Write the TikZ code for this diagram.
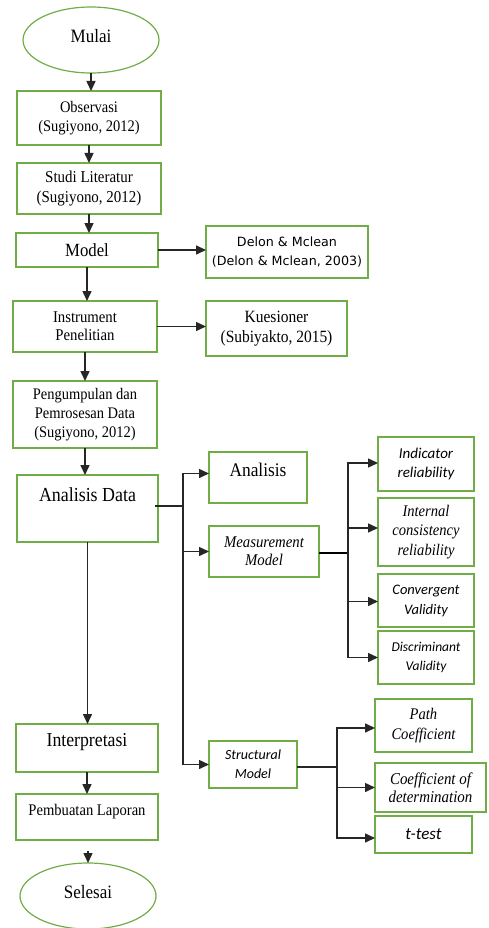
\documentclass[tikz,border=0pt]{standalone}
\usepackage{fontspec}
\setmainfont{Liberation Serif}[FakeStretch=0.9]
\newfontfamily\carl{Carlito}
\newfontfamily\dvs{DejaVu Sans}
\usetikzlibrary{arrows.meta,shapes.geometric}
\definecolor{gbord}{HTML}{70AD47}
\begin{document}
\begin{tikzpicture}[x=1pt,y=-1pt,
  box/.style={draw=gbord, line width=1.2pt, inner sep=0pt, outer sep=0pt, align=center,
    font=\fontsize{16.1}{19}\selectfont},
  oval/.style={draw=gbord, line width=1.2pt, ellipse, inner sep=0pt, outer sep=0pt},
  txt/.style={inner sep=0pt, align=center},
  arr/.style={draw=black!85, line width=1.5pt, -{Triangle[length=10pt,width=9pt]}},
  ln/.style={draw=black!85, line width=1.5pt}]
\useasboundingbox (0,0) rectangle (488,928);
% main column
\node[oval, minimum width=136, minimum height=66] (mulai) at (91,40) {};
\node[txt, font=\fontsize{18.9}{20}\selectfont] (tmulai) at (91,36) {Mulai};
\node[box, minimum width=144, minimum height=54] (obs) at (89,118) {Observasi\\(Sugiyono, 2012)};
\node[box, minimum width=144, minimum height=51, font=\fontsize{16.6}{20}\selectfont] (studi) at (89,188.5) {Studi Literatur\\(Sugiyono, 2012)};
\node[box, minimum width=142, minimum height=34, font=\fontsize{18.6}{20}\selectfont] (model) at (87,250) {Model};
\node[box, minimum width=162, minimum height=52, font=\dvs\fontsize{12.7}{19}\selectfont] (delon) at (287,252) {Delon \& Mclean\\(Delon \& Mclean, 2003)};
\node[box, minimum width=144, minimum height=51, font=\fontsize{16.4}{18}\selectfont] (instr) at (85,326.5) {Instrument\\Penelitian};
\node[box, minimum width=141, minimum height=55, font=\fontsize{17.2}{20}\selectfont] (kues) at (276.5,328.5) {Kuesioner\\(Subiyakto, 2015)};
\node[box, minimum width=144, minimum height=67] (peng) at (85,414.5) {Pengumpulan dan\\Pemrosesan Data\\(Sugiyono, 2012)};
\node[box, minimum width=141, minimum height=67] (adata) at (87.5,508.5) {};
\node[txt, font=\fontsize{19.9}{20}\selectfont] (tadata) at (87.5,495) {Analisis Data};
\node[box, minimum width=142, minimum height=48] (interp) at (87,748) {};
\node[txt, font=\fontsize{19.7}{20}\selectfont] (tinterp) at (87,742) {Interpretasi};
\node[box, minimum width=142, minimum height=46] (pemb) at (87,817) {};
\node[txt, font=\fontsize{16.2}{18}\selectfont] (tpemb) at (87,812) {Pembuatan Laporan};
\node[oval, minimum width=136, minimum height=66] (selesai) at (88,896) {};
\node[txt, font=\fontsize{18.9}{20}\selectfont] (tselesai) at (88,892) {Selesai};
% middle column
\node[box, minimum width=98, minimum height=51] (anl) at (258,477.5) {};
\node[txt, font=\fontsize{19.3}{20}\selectfont] (tanl) at (258,470) {Analisis};
\node[box, minimum width=110, minimum height=51, font=\itshape\fontsize{16.4}{18}\selectfont] (meas) at (264,551.5) {Measurement\\Model};
\node[box, minimum width=88, minimum height=47, font=\carl\itshape\fontsize{14}{19}\selectfont] (struct) at (253,764.5) {Structural\\Model};
% right column
\node[box, minimum width=96, minimum height=54, font=\carl\itshape\fontsize{15}{19}\selectfont] (ind) at (426,464) {Indicator\\reliability};
\node[box, minimum width=96, minimum height=68, font=\itshape\fontsize{16.2}{19.5}\selectfont] (internal) at (426,532) {Internal\\consistency\\reliability};
\node[box, minimum width=96, minimum height=53, font=\carl\itshape\fontsize{14.5}{20}\selectfont] (conv) at (426,600.5) {Convergent\\Validity};
\node[box, minimum width=96, minimum height=53, font=\carl\itshape\fontsize{13.5}{19}\selectfont] (disc) at (426,657.5) {Discriminant\\Validity};
\node[box, minimum width=97, minimum height=53, font=\itshape\fontsize{16.2}{20}\selectfont] (path) at (423.5,725.5) {Path\\Coefficient};
\node[box, minimum width=111, minimum height=49, font=\itshape\fontsize{16.6}{18}\selectfont] (coef) at (430.5,787.5) {Coefficient of\\determination};
\node[box, minimum width=97, minimum height=37, font=\carl\itshape\fontsize{17}{20}\selectfont] (ttest) at (423.5,834.5) {t-test};
% junctions
\coordinate (j1) at (183,506);
\coordinate (j2) at (348,553);
\coordinate (j3) at (337,767);
\coordinate (gap) at (88,851);
% connectors main column
\draw[arr] (mulai.south) -- (mulai.south |- obs.north);
\draw[arr] (obs.south) -- (studi.north);
\draw[arr] (studi.south) -- (studi.south |- model.north);
\draw[arr] (model.east) -- (model.east -| delon.west);
\draw[arr] (model.south) -- (model.south |- instr.north);
\draw[arr] (instr.east) -- (instr.east -| kues.west);
\draw[arr] (instr.south) -- (peng.north);
\draw[arr] (peng.south) -- (peng.south |- adata.north);
\draw[arr] (adata.south) -- (adata.south |- interp.north);
\draw[arr] (interp.south) -- (pemb.north);
\draw[arr] (gap) -- (selesai.north);
% analysis branches
\draw[ln] ([xshift=-3pt]adata.east |- j1) -- (j1);
\draw[arr] (j1) |- ([yshift=4pt]anl.west);
\draw[arr] (j1) |- (meas.west);
\draw[arr] (j1) |- (struct.west);
% measurement branches
\draw[draw=black, line width=2.6pt] (meas.east |- j2) -- (j2);
\draw[arr] (j2) |- ([yshift=1pt]ind.west);
\draw[arr] (j2) |- ([yshift=4pt]internal.west);
\draw[arr] (j2) |- ([yshift=-1pt]conv.west);
\draw[arr] (j2) |- (disc.west);
% structural branches
\draw[ln] (struct.east |- j3) -- (j3);
\draw[arr] (j3) |- ([yshift=-2.5pt]path.west);
\draw[arr] (j3) |- (coef.west);
\draw[arr] (j3) |- ([yshift=-3.5pt]ttest.west);
\end{tikzpicture}
\end{document}
